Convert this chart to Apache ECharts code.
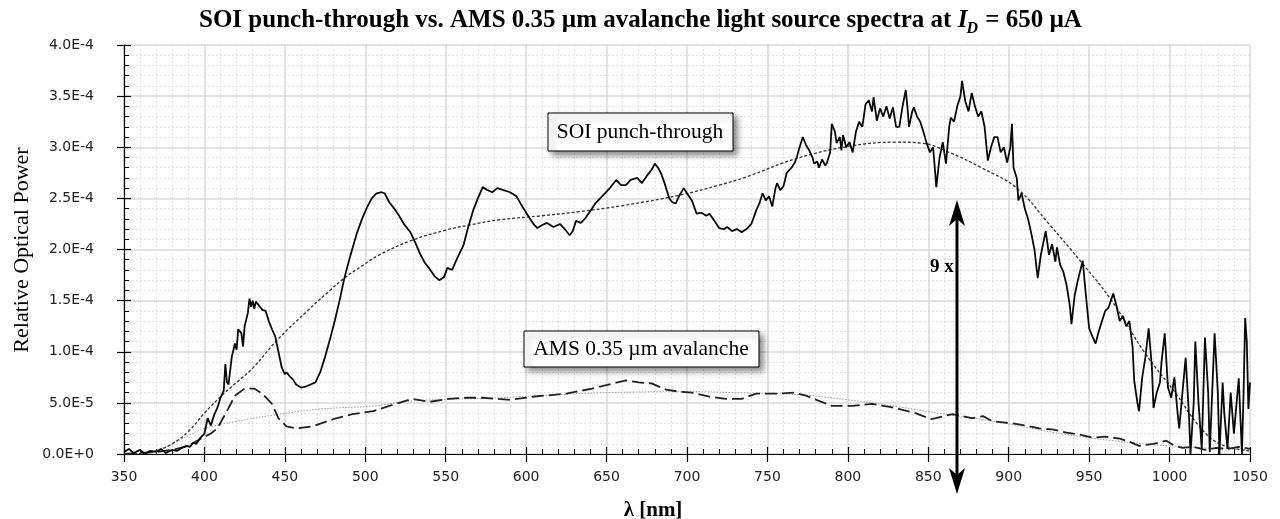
<!DOCTYPE html>
<html><head><meta charset="utf-8">
<script src="https://cdn.jsdelivr.net/npm/echarts@6.0.0/dist/echarts.min.js"></script>
<style>html,body{margin:0;padding:0;background:#fff}#c{width:1280px;height:519px}</style>
</head><body><div id="c"></div>
<script>
// wavelengths in nm, values in units of 1e-4 (relative optical power)
const SCALE = 1e-4;
const soiPunch = [[350,0.02],[353,0.05],[356,0.01],[360,0.04],[363,0.0],[366,0.03],[370,0.02],[373,0.05],[376,0.01],[380,0.04],[383,0.03],[386,0.06],[389,0.08],[391,0.07],[393,0.11],[395,0.10],[397,0.15],[400,0.2],[402,0.35],[404,0.28],[406,0.38],[408,0.45],[410,0.55],[412,0.62],[413,0.88],[414,0.7],[415,0.68],[417,0.95],[419,1.08],[420,1.02],[421,1.22],[423,1.18],[424,1.05],[425,1.25],[427,1.38],[428,1.52],[429,1.44],[430,1.5],[431,1.42],[432,1.49],[434,1.45],[436,1.41],[438,1.40],[440,1.3],[442,1.22],[444,1.15],[446,1.0],[448,0.85],[450,0.78],[451,0.8],[453,0.76],[455,0.73],[457,0.68],[460,0.65],[463,0.66],[466,0.68],[469,0.7],[472,0.8],[475,0.95],[478,1.12],[481,1.3],[484,1.5],[487,1.72],[490,1.9],[492,2.01],[495,2.17],[498,2.3],[501,2.41],[504,2.5],[507,2.55],[510,2.56],[512,2.55],[515,2.46],[518,2.4],[521,2.33],[524,2.25],[528,2.17],[531,2.07],[534,1.96],[537,1.87],[540,1.81],[543,1.74],[546,1.7],[549,1.73],[551,1.82],[554,1.8],[557,1.91],[561,2.04],[564,2.22],[567,2.38],[570,2.5],[573,2.61],[576,2.58],[579,2.56],[582,2.6],[586,2.58],[590,2.56],[594,2.52],[598,2.41],[602,2.31],[605,2.24],[607,2.21],[610,2.24],[613,2.26],[617,2.22],[621,2.25],[624,2.2],[627,2.14],[629,2.18],[631,2.28],[634,2.26],[637,2.31],[640,2.38],[643,2.45],[646,2.5],[649,2.55],[652,2.6],[656,2.68],[659,2.63],[662,2.63],[665,2.68],[669,2.7],[672,2.65],[675,2.72],[678,2.78],[680,2.84],[682,2.8],[684,2.74],[686,2.65],[689,2.5],[691,2.46],[693,2.45],[695,2.52],[698,2.6],[700,2.55],[703,2.48],[706,2.35],[709,2.36],[712,2.33],[714,2.35],[717,2.28],[720,2.21],[723,2.2],[725,2.22],[728,2.18],[731,2.2],[734,2.17],[737,2.2],[740,2.25],[743,2.38],[745,2.45],[747,2.55],[749,2.48],[751,2.52],[753,2.42],[755,2.6],[756,2.65],[758,2.58],[760,2.62],[762,2.75],[765,2.8],[767,2.85],[768,2.89],[770,3.0],[772,3.1],[774,3.02],[776,2.97],[778,2.9],[779,2.84],[781,2.86],[782,2.8],[784,2.88],[786,2.82],[787,2.85],[789,2.95],[790,3.23],[792,3.15],[793,3.04],[795,3.1],[796,2.97],[797,3.12],[799,3.0],[801,3.05],[803,2.95],[805,3.15],[807,3.25],[809,3.2],[811,3.42],[813,3.46],[815,3.35],[816,3.49],[818,3.26],[820,3.38],[822,3.3],[824,3.4],[826,3.28],[828,3.39],[830,3.2],[832,3.2],[834,3.4],[836,3.56],[837,3.4],[838,3.2],[840,3.35],[841,3.39],[843,3.3],[845,3.25],[847,3.15],[849,3.04],[851,2.95],[853,3.0],[855,2.61],[857,2.9],[859,3.05],[861,2.84],[863,3.2],[864,3.29],[866,3.25],[868,3.4],[870,3.5],[871,3.65],[873,3.45],[875,3.35],[877,3.53],[879,3.4],[881,3.3],[883,3.35],[885,3.2],[887,2.87],[889,3.0],[891,3.1],[893,3.1],[895,2.95],[897,3.0],[899,2.85],[901,3.0],[902,3.23],[903,2.8],[905,2.7],[906,2.48],[908,2.55],[910,2.4],[912,2.3],[914,2.16],[916,2.0],[918,1.72],[920,1.95],[923,2.18],[925,1.95],[927,2.05],[929,1.88],[930,2.02],[932,1.85],[934,1.78],[936,1.65],[938,1.45],[939,1.27],[941,1.55],[943,1.7],[946,1.89],[948,1.55],[950,1.23],[952,1.15],[954,1.08],[956,1.2],[958,1.3],[960,1.4],[962,1.43],[965,1.57],[967,1.45],[969,1.3],[971,1.35],[973,1.25],[975,1.3],[977,1.05],[978,0.72],[980,0.5],[981,0.42],[983,0.75],[985,0.95],[987,1.23],[989,0.85],[990,0.45],[992,0.6],[994,0.7],[995,0.9],[997,1.18],[999,0.65],[1001,0.55],[1003,0.75],[1005,0.4],[1006,0.25],[1008,0.6],[1010,0.94],[1012,0.4],[1013,0.0],[1015,0.5],[1016,1.1],[1018,0.5],[1020,0.05],[1022,1.14],[1024,0.6],[1025,0.02],[1027,0.8],[1028,1.18],[1030,0.6],[1031,0.0],[1033,0.7],[1034,0.4],[1036,0.05],[1038,0.6],[1040,0.2],[1043,0.74],[1045,0.0],[1046,0.6],[1047,1.33],[1048,1.1],[1049,0.44],[1050,0.7]];
const soiFit = [[350,0],[360,0.005],[370,0.03],[380,0.1],[390,0.22],[400,0.4],[410,0.56],[420,0.7],[430,0.84],[445,1.11],[464,1.4],[478,1.6],[487,1.72],[498,1.84],[509,1.95],[529,2.09],[550,2.19],[565,2.24],[583,2.29],[610,2.33],[633,2.37],[660,2.43],[695,2.53],[720,2.63],[737,2.71],[768,2.89],[801,3.01],[830,3.05],[846,3.04],[863,2.95],[883,2.8],[905,2.6],[925,2.25],[946,1.86],[964,1.5],[985,0.98],[1004,0.59],[1018,0.28],[1031,0.1],[1050,0.03]];
const amsAval = [[350,0.0],[360,0.01],[370,0.02],[380,0.04],[390,0.08],[399,0.16],[404,0.2],[408,0.25],[414,0.42],[419,0.57],[425,0.64],[431,0.64],[436,0.59],[442,0.49],[446,0.35],[451,0.27],[457,0.25],[467,0.27],[480,0.34],[492,0.39],[505,0.42],[515,0.47],[521,0.5],[529,0.54],[540,0.51],[552,0.54],[563,0.55],[573,0.55],[590,0.53],[604,0.56],[625,0.59],[641,0.64],[654,0.69],[662,0.72],[670,0.7],[678,0.69],[687,0.63],[695,0.61],[703,0.6],[714,0.56],[724,0.54],[734,0.54],[743,0.59],[755,0.59],[767,0.6],[774,0.57],[782,0.52],[790,0.47],[803,0.47],[815,0.49],[826,0.46],[832,0.44],[842,0.4],[852,0.34],[865,0.39],[877,0.35],[884,0.37],[890,0.32],[902,0.30],[910,0.28],[919,0.25],[927,0.24],[936,0.21],[944,0.19],[952,0.16],[960,0.17],[969,0.15],[975,0.12],[981,0.08],[990,0.1],[998,0.13],[1003,0.08],[1008,0.06],[1015,0.07],[1022,0.04],[1029,0.06],[1036,0.05],[1043,0.07],[1050,0.05]];
const amsFit = [[350,0],[360,0.01],[368,0.03],[380,0.1],[390,0.18],[400,0.25],[420,0.32],[447,0.39],[472,0.44],[505,0.47],[530,0.52],[584,0.55],[620,0.58],[650,0.6],[700,0.61],[730,0.6],[770,0.58],[800,0.53],[832,0.46],[860,0.39],[894,0.31],[936,0.19],[977,0.11],[1010,0.07],[1050,0.04]];
const xMin = 350, xMax = 1050, xStep = 50;
const yMin = 0, yMax = 4e-4, yStep = 0.5e-4;
const titleMain = 'SOI punch-through vs. AMS 0.35 µm avalanche light source spectra at ';
const titleTail = ' = 650 µA';

const toSeries = arr => arr.map(p => [p[0], p[1] * SCALE]);

const chart = echarts.init(document.getElementById('c'), null, {renderer: 'canvas'});

const ctx = document.createElement('canvas').getContext('2d');
function tw(text, font) { ctx.font = font; return ctx.measureText(text).width; }
const fBold = 'bold 25px "Liberation Serif"';
const fBoldIt = 'italic bold 25px "Liberation Serif"';
const fSub = 'italic bold 16px "Liberation Serif"';
const titleX = 199, titleBase = 33;
const w1 = tw(titleMain, fBold), w2 = tw('I', fBoldIt), w3 = tw('D', fSub);

const gridLeft = 124, gridRight = 30, gridTop = 45, gridBottom = 65;
const tickColor = '#000';

const option = {
  animation: false,
  backgroundColor: '#fff',
  grid: {left: gridLeft, right: gridRight, top: gridTop, bottom: gridBottom, containLabel: false, outerBoundsMode: 'none'},
  xAxis: [{
    type: 'value', min: xMin, max: xMax, interval: xStep,
    axisLine: {show: true, onZero: false, lineStyle: {color: '#000', width: 1.2}},
    axisTick: {show: true, inside: true, length: 7, lineStyle: {color: tickColor, width: 1.2}},
    minorTick: {show: true, splitNumber: 5, length: 5, lineStyle: {color: tickColor, width: 1}},
    axisLabel: {show: true, margin: 16, fontFamily: 'DejaVu Sans', fontSize: 14, color: '#222',
      formatter: v => String(v)},
    splitLine: {show: true, lineStyle: {color: '#d8d8d8', width: 1.5}},
    minorSplitLine: {show: true, lineStyle: {color: '#e2e2e2', width: 1, type: [2, 2]}}
  }, {
    type: 'value', min: xMin, max: xMax, interval: xStep, position: 'bottom', gridIndex: 0,
    axisLine: {show: false}, axisLabel: {show: false}, splitLine: {show: false},
    axisTick: {show: true, inside: false, length: 8, lineStyle: {color: tickColor, width: 1.2}}
  }],
  yAxis: [{
    type: 'value', min: yMin, max: yMax, interval: yStep,
    axisLine: {show: true, onZero: false, lineStyle: {color: '#000', width: 1.2}},
    axisTick: {show: true, inside: true, length: 7, lineStyle: {color: tickColor, width: 1.2}},
    minorTick: {show: true, splitNumber: 5, length: 5, lineStyle: {color: tickColor, width: 1}},
    axisLabel: {show: true, margin: 30, fontFamily: 'DejaVu Sans', fontSize: 14, color: '#222',
      formatter: v => v.toExponential(1).toUpperCase()},
    splitLine: {show: true, lineStyle: {color: '#d8d8d8', width: 1.5}},
    minorSplitLine: {show: true, lineStyle: {color: '#e2e2e2', width: 1, type: [2, 2]}}
  }, {
    type: 'value', min: yMin, max: yMax, interval: yStep, position: 'left', gridIndex: 0,
    axisLine: {show: false}, axisLabel: {show: false}, splitLine: {show: false},
    axisTick: {show: true, inside: false, length: 7, lineStyle: {color: tickColor, width: 1.2}}
  }],
  series: [
    {name: 'AMS fit', type: 'line', data: toSeries(amsFit), showSymbol: false, smooth: 0.4, z: 2,
      lineStyle: {color: '#9a9a9a', width: 1, type: [1.5, 1.5]}},
    {name: 'SOI fit', type: 'line', data: toSeries(soiFit), showSymbol: false, smooth: 0.4, z: 3,
      lineStyle: {color: '#333', width: 1.3, type: [3, 2]}},
    {name: 'AMS 0.35 µm avalanche', type: 'line', data: toSeries(amsAval), showSymbol: false, z: 4,
      lineStyle: {color: '#222', width: 1.8, type: [12, 5]}},
    {name: 'SOI punch-through', type: 'line', data: toSeries(soiPunch), showSymbol: false, z: 5,
      lineStyle: {color: '#0a0a0a', width: 1.8}}
  ],
  graphic: [
    // title
    {type: 'text', x: titleX, y: titleBase, style: {text: titleMain, font: fBold, fill: '#000', verticalAlign: 'bottom'}},
    {type: 'text', x: titleX + w1, y: titleBase, style: {text: 'I', font: fBoldIt, fill: '#000', verticalAlign: 'bottom'}},
    {type: 'text', x: titleX + w1 + w2 - 1, y: titleBase + 4, style: {text: 'D', font: fSub, fill: '#000', verticalAlign: 'bottom'}},
    {type: 'text', x: titleX + w1 + w2 + w3, y: titleBase, style: {text: titleTail, font: fBold, fill: '#000', verticalAlign: 'bottom'}},
    // axis titles
    {type: 'text', x: 22, y: 250, rotation: Math.PI / 2, style: {text: 'Relative Optical Power', font: '22px "Liberation Serif"', fill: '#000', align: 'center', verticalAlign: 'middle'}},
    {type: 'text', x: 653, y: 511, style: {text: 'λ [nm]', font: 'bold 21px "Liberation Serif"', fill: '#000', align: 'center', verticalAlign: 'middle'}},
    // annotation boxes
    {type: 'rect', shape: {x: 548, y: 113, width: 185, height: 38}, z: 20,
      style: {fill: '#fff', stroke: '#000', lineWidth: 1, shadowBlur: 6, shadowOffsetX: 4, shadowOffsetY: 4, shadowColor: 'rgba(0,0,0,0.45)'}},
    {type: 'text', x: 640, y: 132, z: 21, style: {text: 'SOI punch-through', font: '21.5px "Liberation Serif"', fill: '#000', align: 'center', verticalAlign: 'middle'}},
    {type: 'rect', shape: {x: 524, y: 331, width: 235, height: 36}, z: 20,
      style: {fill: '#fff', stroke: '#000', lineWidth: 1, shadowBlur: 6, shadowOffsetX: 4, shadowOffsetY: 4, shadowColor: 'rgba(0,0,0,0.45)'}},
    {type: 'text', x: 641, y: 349, z: 21, style: {text: 'AMS 0.35 µm avalanche', font: '21.5px "Liberation Serif"', fill: '#000', align: 'center', verticalAlign: 'middle'}},
    // 9x arrow
    {type: 'line', shape: {x1: 957, y1: 218, x2: 957, y2: 476}, z: 20, style: {stroke: '#000', lineWidth: 3}},
    {type: 'polygon', shape: {points: [[957, 200], [949, 226], [957, 219], [965, 226]]}, z: 20, style: {fill: '#000'}},
    {type: 'polygon', shape: {points: [[957, 494], [949, 468], [957, 475], [965, 468]]}, z: 20, style: {fill: '#000'}},
    {type: 'text', x: 930, y: 267, z: 21, style: {text: '9 x', font: 'bold 19px "Liberation Serif"', fill: '#000', verticalAlign: 'middle'}}
  ]
};
chart.setOption(option);
</script>
</body></html>
